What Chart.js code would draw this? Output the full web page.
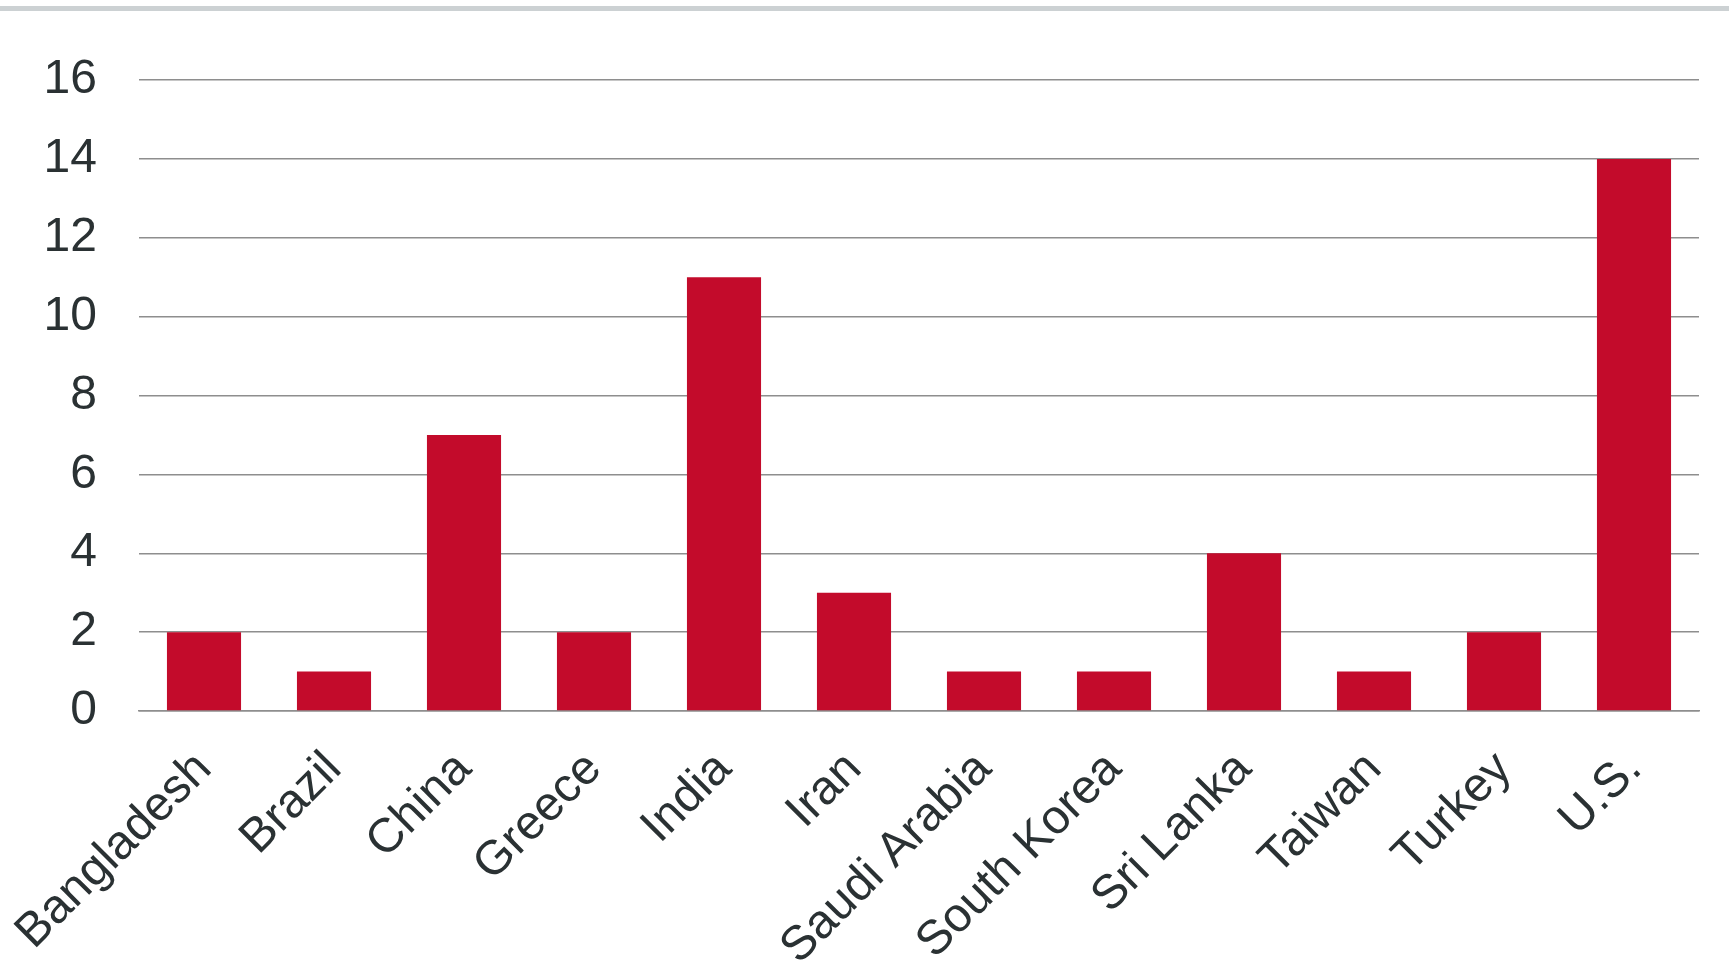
<!DOCTYPE html>
<html>
<head>
<meta charset="utf-8">
<script src="https://cdn.jsdelivr.net/npm/chart.js@4"></script>
<style>
  html, body { margin: 0; padding: 0; background: #fff; overflow: hidden; }
  #wrap { position: relative; width: 1729px; height: 964px; }
  #topbar { position: absolute; left: 0; top: 6px; width: 1729px; height: 5px; background: #ccd1d3; }
  canvas { position: absolute; left: 0; top: 0; }
</style>
</head>
<body>
<div id="wrap">
  <div id="topbar"></div>
  <canvas id="chart" width="1729" height="964"></canvas>
</div>
<script>
const countries = ["Bangladesh", "Brazil", "China", "Greece", "India", "Iran", "Saudi Arabia", "South Korea", "Sri Lanka", "Taiwan", "Turkey", "U.S."];
const counts = [2, 1, 7, 2, 11, 3, 1, 1, 4, 1, 2, 14];
const yTicks = [0, 2, 4, 6, 8, 10, 12, 14, 16];

const labelFont = { family: "'Liberation Sans', Arial, sans-serif", size: 48 };
const textColor = '#2a3133';
const gridColor = '#8e8e8e';

new Chart(document.getElementById('chart'), {
  type: 'bar',
  data: {
    labels: countries,
    datasets: [{
      data: counts,
      backgroundColor: '#c30b2b',
      borderWidth: 0,
      barPercentage: 0.57,
      categoryPercentage: 1.0
    }]
  },
  options: {
    responsive: false,
    animation: false,
    devicePixelRatio: 1,
    layout: { padding: { left: 0, right: 30, top: 80, bottom: 0 } },
    plugins: { legend: { display: false }, tooltip: { enabled: false } },
    scales: {
      x: {
        grid: { display: false, drawTicks: false },
        border: { display: true, color: gridColor, width: 1.5 },
        ticks: {
          font: labelFont, color: textColor,
          minRotation: 45, maxRotation: 45, autoSkip: false, padding: 30
        },
        afterFit: (scale) => {
          scale.height = 253;
          scale.paddingLeft = 0;
          scale.paddingRight = 0;
        }
      },
      y: {
        min: 0, max: 16,
        afterBuildTicks: (scale) => { scale.ticks = yTicks.map(v => ({ value: v })); },
        grid: { color: gridColor, lineWidth: 1.5, drawTicks: false },
        border: { display: false },
        ticks: { font: labelFont, color: textColor, padding: 42 },
        afterFit: (scale) => { scale.width = 139; }
      }
    }
  }
});
</script>
</body>
</html>
